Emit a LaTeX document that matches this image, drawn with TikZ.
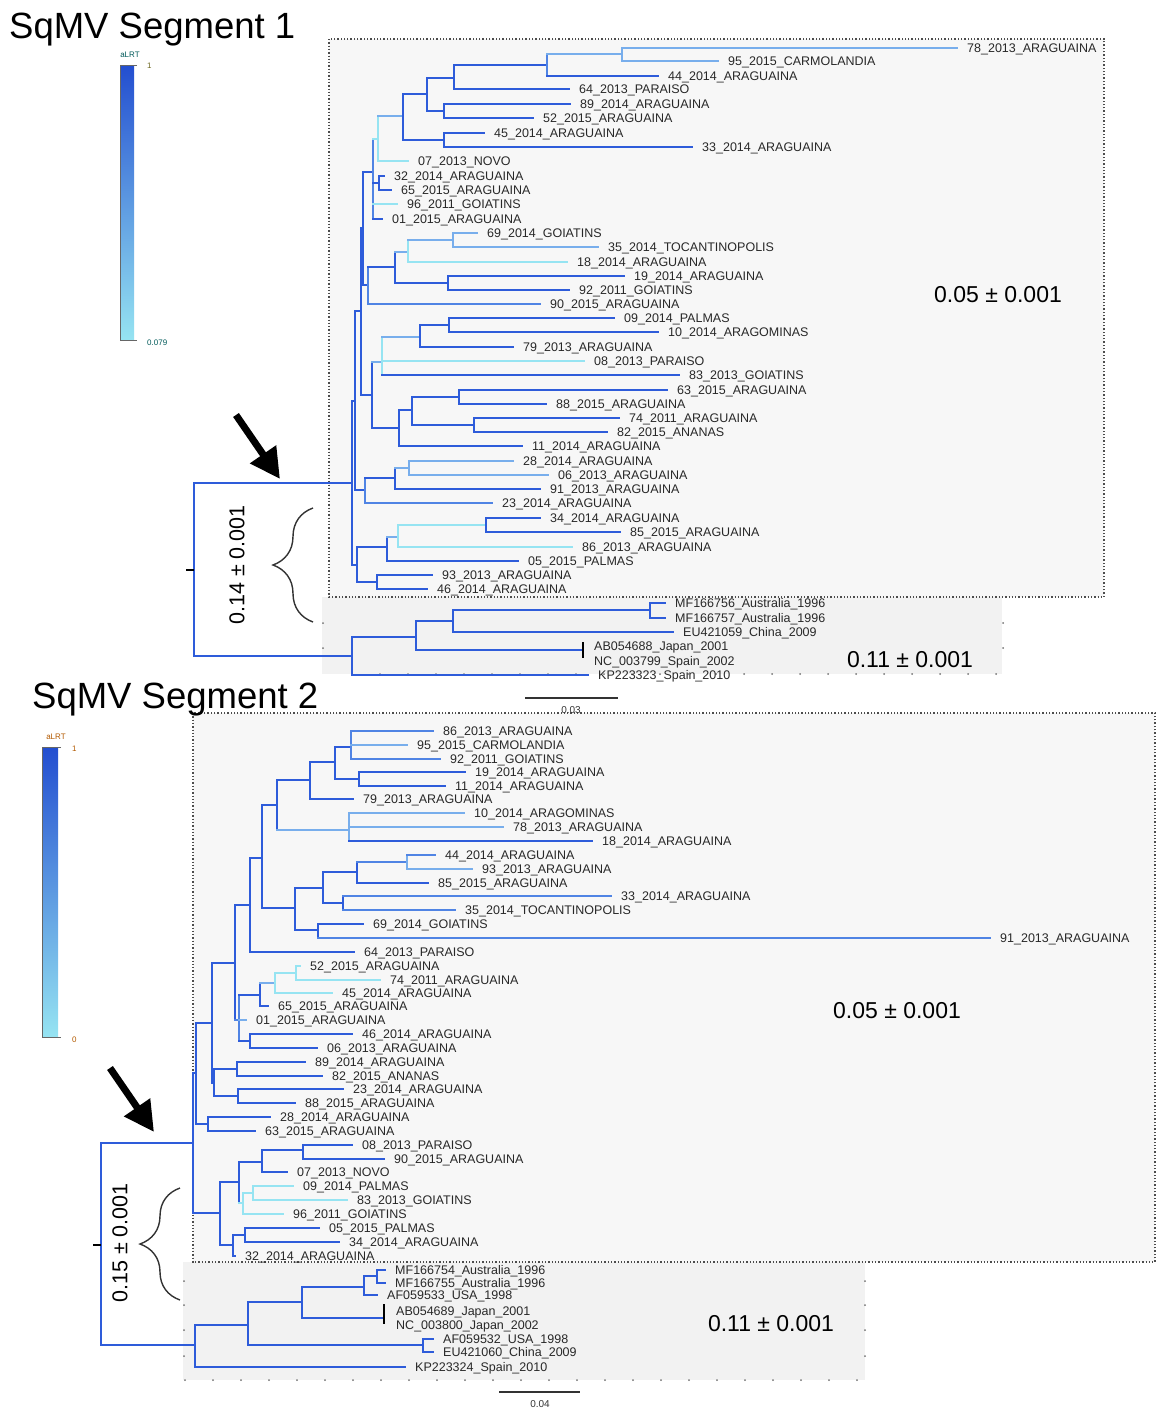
\documentclass[tikz,border=0pt]{standalone}
\usepackage{fontspec}
\setmainfont{Liberation Sans}
\usetikzlibrary{arrows.meta,decorations.pathreplacing}
\definecolor{b1}{RGB}{46,92,218}
\definecolor{b2}{RGB}{80,132,228}
\definecolor{b3}{RGB}{120,174,236}
\definecolor{b4}{RGB}{150,228,242}
\definecolor{cbtop}{RGB}{35,78,208}
\definecolor{labc}{RGB}{40,40,40}
\newcommand{\vbr}[4][b1]{\draw[br,#1] (#2,#3)--(#2,#4);}
\newcommand{\hbr}[4][b1]{\draw[br,#1] (#2,#4)--(#3,#4);}
\newcommand{\tipline}[5][b1]{\draw[br,#1] (#2,#4)--(#3,#4); \node[lab] (tip#4) at (#3+10,#4+4.6) {#5};}

\begin{document}
\begin{tikzpicture}[x=1pt,y=-1pt,
  br/.style={line width=2.9pt,line cap=rect},
  lab/.style={anchor=base west,inner sep=0pt,text=labc,font=\fontsize{12.5}{14}\selectfont},
  big/.style={font=\fontsize{23}{26}\selectfont},
  ttl/.style={anchor=base west,inner sep=0pt,font=\fontsize{36.5}{40}\selectfont},
  tiny/.style={inner sep=0pt,text=black!65,font=\fontsize{8}{9}\selectfont}]
\useasboundingbox (0,0) rectangle (1156,1408);

% panels
\fill[black!3] (329,39) rectangle (1104,597);
\fill[black!5] (322,597) rectangle (1002,674);
\draw[dotted,line width=1.3pt,black!70] (329,39) rectangle (1104,597);
\foreach \x in {352,380,...,1000} \fill[black!55] (\x,674) circle (1);
\foreach \y in {623,648} {\fill[black!55] (323,\y) circle (1); \fill[black!55] (1003,\y) circle (1);}
\fill[black!3] (193,713) rectangle (1155,1262);
\fill[black!5] (183,1262) rectangle (865,1380);
\draw[dotted,line width=1.3pt,black!70] (193,713) rectangle (1155,1262);
\foreach \x in {185,213,...,865} \fill[black!55] (\x,1380) circle (1);
\foreach \y in {1281,1305,1330,1356} {\fill[black!55] (184,\y) circle (1); \fill[black!55] (865,\y) circle (1);}

% titles and legends
\node[ttl] (title1) at (9,38) {SqMV Segment 1};
\node[ttl] (title2) at (32,708) {SqMV Segment 2};
\shade[top color=cbtop,bottom color=b4] (120,65) rectangle (134,340);
\draw[black!60,line width=0.8pt] (137,65)--(120,65)--(120,340)--(137,340);
\node[tiny,text=teal!70!black] (alrt1) at (130,55) {aLRT};
\node[tiny,anchor=west,text=olive!70!black] (one1) at (147,66) {1};
\node[tiny,anchor=west,text=teal!70!black] (low1) at (147,343) {0.079};
\shade[top color=cbtop,bottom color=b4] (42,747) rectangle (58,1037);
\draw[black!60,line width=0.8pt] (61,747)--(42,747)--(42,1037)--(61,1037);
\node[tiny,text=orange!70!black] (alrt2) at (56,737) {aLRT};
\node[tiny,anchor=west,text=orange!70!black] (one2) at (72,749) {1};
\node[tiny,anchor=west,text=orange!70!black] (low2) at (72,1040) {0};

% segment 1
\vbr{194}{483}{656}
\hbr{194}{352}{483}
\hbr{194}{352}{656}
\draw[line width=2pt] (186,570)--(194,570);
\vbr{352}{401}{565}
\hbr{352}{355}{401}
\hbr{352}{357}{565}
\vbr{355}{311}{490}
\hbr{355}{361}{311}
\hbr{355}{365}{490}
\vbr{361}{228}{395}
\hbr{361}{363}{228}
\hbr{361}{372}{395}
\vbr{363}{172}{285}
\hbr{363}{373}{172}
\hbr{363}{368}{285}
\vbr[b2]{373}{139}{219}
\hbr[b4]{373}{378}{139}
\hbr{373}{379}{183}
\tipline[b4]{373}{397}{204}{96\_2011\_GOIATINS}
\tipline{373}{382}{219}{01\_2015\_ARAGUAINA}
\vbr{379}{176}{190}
\tipline{379}{384}{176}{32\_2014\_ARAGUAINA}
\tipline{379}{391}{190}{65\_2015\_ARAGUAINA}
\vbr[b4]{378}{116}{161}
\hbr[b3]{378}{403}{116}
\tipline[b4]{378}{408}{161}{07\_2013\_NOVO}
\vbr{403}{94}{140}
\hbr{403}{427}{94}
\hbr{403}{444}{140}
\vbr{444}{133}{147}
\tipline{444}{484}{133}{45\_2014\_ARAGUAINA}
\tipline{444}{692}{147}{33\_2014\_ARAGUAINA}
\vbr{427}{78}{111}
\hbr{427}{454}{78}
\hbr{427}{444}{111}
\vbr{444}{104}{118}
\tipline{444}{570}{104}{89\_2014\_ARAGUAINA}
\tipline{444}{533}{118}{52\_2015\_ARAGUAINA}
\vbr{454}{65}{89}
\hbr{454}{547}{65}
\tipline{454}{569}{89}{64\_2013\_PARAISO}
\vbr[b2]{547}{54}{76}
\hbr[b3]{547}{622}{54}
\tipline{547}{658}{76}{44\_2014\_ARAGUAINA}
\vbr[b3]{622}{48}{61}
\tipline[b3]{622}{957}{48}{78\_2013\_ARAGUAINA}
\tipline[b3]{622}{718}{61}{95\_2015\_CARMOLANDIA}
\vbr[b2]{368}{267}{304}
\hbr{368}{395}{267}
\tipline[b2]{368}{540}{304}{90\_2015\_ARAGUAINA}
\vbr{395}{252}{283}
\hbr[b3]{395}{408}{252}
\hbr{395}{448}{283}
\vbr[b4]{408}{240}{262}
\hbr[b3]{408}{453}{240}
\tipline[b4]{408}{567}{262}{18\_2014\_ARAGUAINA}
\vbr[b3]{453}{233}{247}
\tipline[b3]{453}{477}{233}{69\_2014\_GOIATINS}
\tipline[b3]{453}{598}{247}{35\_2014\_TOCANTINOPOLIS}
\vbr{448}{276}{290}
\tipline{448}{624}{276}{19\_2014\_ARAGUAINA}
\tipline{448}{569}{290}{92\_2011\_GOIATINS}
\vbr{372}{362}{428}
\hbr[b3]{372}{382}{362}
\hbr{372}{399}{428}
\vbr[b4]{382}{337}{375}
\hbr[b3]{382}{420}{337}
\tipline[b4]{382}{584}{361}{08\_2013\_PARAISO}
\tipline{382}{679}{375}{83\_2013\_GOIATINS}
\vbr{420}{325}{347}
\hbr{420}{449}{325}
\tipline{420}{513}{347}{79\_2013\_ARAGUAINA}
\vbr{449}{318}{332}
\tipline{449}{614}{318}{09\_2014\_PALMAS}
\tipline{449}{658}{332}{10\_2014\_ARAGOMINAS}
\vbr{399}{410}{446}
\hbr{399}{412}{410}
\tipline{399}{522}{446}{11\_2014\_ARAGUAINA}
\vbr{412}{397}{425}
\hbr{412}{459}{397}
\hbr{412}{474}{425}
\vbr{459}{390}{404}
\tipline{459}{667}{390}{63\_2015\_ARAGUAINA}
\tipline{459}{546}{404}{88\_2015\_ARAGUAINA}
\vbr{474}{418}{432}
\tipline{474}{619}{418}{74\_2011\_ARAGUAINA}
\tipline{474}{607}{432}{82\_2015\_ANANAS}
\vbr[b2]{365}{478}{503}
\hbr{365}{395}{478}
\tipline[b2]{365}{492}{503}{23\_2014\_ARAGUAINA}
\vbr{395}{468}{489}
\hbr[b3]{395}{409}{468}
\tipline{395}{540}{489}{91\_2013\_ARAGUAINA}
\vbr[b3]{409}{461}{475}
\tipline[b3]{409}{513}{461}{28\_2014\_ARAGUAINA}
\tipline[b3]{409}{548}{475}{06\_2013\_ARAGUAINA}
\vbr{357}{547}{582}
\hbr{357}{387}{547}
\hbr{357}{377}{582}
\vbr{387}{537}{561}
\hbr[b3]{387}{398}{537}
\tipline{387}{518}{561}{05\_2015\_PALMAS}
\vbr[b4]{398}{525}{547}
\hbr[b4]{398}{486}{525}
\tipline[b4]{398}{572}{547}{86\_2013\_ARAGUAINA}
\vbr{486}{518}{532}
\tipline{486}{540}{518}{34\_2014\_ARAGUAINA}
\tipline{486}{620}{532}{85\_2015\_ARAGUAINA}
\vbr{377}{575}{589}
\tipline{377}{432}{575}{93\_2013\_ARAGUAINA}
\tipline{377}{427}{589}{46\_2014\_ARAGUAINA}
% outgroup 1
\vbr{352}{637}{675}
\hbr{352}{416}{637}
\tipline{352}{588}{675}{KP223323\_Spain\_2010}
\vbr{416}{621}{650}
\hbr{416}{453}{621}
\hbr{416}{583}{650}
\draw[line width=2pt] (583,642)--(583,658);
\node[lab] (tip646) at (594,650.6) {AB054688\_Japan\_2001};
\node[lab] (tip661) at (594,665.6) {NC\_003799\_Spain\_2002};
\vbr{453}{610}{632}
\hbr{453}{650}{610}
\tipline{453}{673}{632}{EU421059\_China\_2009}
\vbr{650}{603}{618}
\tipline{650}{665}{603}{MF166756\_Australia\_1996}
\tipline{650}{665}{618}{MF166757\_Australia\_1996}

% segment 2
\vbr{101}{1143}{1345}
\hbr{101}{193}{1143}
\hbr{101}{195}{1345}
\draw[line width=2pt] (93,1245)--(101,1245);
\vbr{193}{1073}{1213}
\hbr{193}{196}{1073}
\hbr{193}{220}{1213}
\vbr{196}{1023}{1124}
\hbr{196}{212}{1023}
\hbr{196}{208}{1124}
\vbr{208}{1117}{1131}
\tipline{208}{270}{1117}{28\_2014\_ARAGUAINA}
\tipline{208}{255}{1131}{63\_2015\_ARAGUAINA}
\vbr{212}{963}{1083}
\hbr{212}{235}{963}
\hbr{212}{214}{1083}
\vbr{214}{1069}{1096}
\hbr{214}{237}{1069}
\hbr{214}{238}{1096}
\vbr{237}{1062}{1076}
\tipline{237}{305}{1062}{89\_2014\_ARAGUAINA}
\tipline{237}{322}{1076}{82\_2015\_ANANAS}
\vbr{238}{1089}{1103}
\tipline{238}{343}{1089}{23\_2014\_ARAGUAINA}
\tipline{238}{295}{1103}{88\_2015\_ARAGUAINA}
\vbr{235}{905}{1020}
\hbr{235}{250}{905}
\hbr[b2]{235}{239}{1020}
\vbr{250}{858}{952}
\hbr{250}{262}{858}
\tipline{250}{354}{952}{64\_2013\_PARAISO}
\vbr{262}{805}{908}
\hbr{262}{277}{805}
\hbr{262}{295}{908}
\vbr{277}{780}{830}
\hbr{277}{310}{780}
\hbr[b3]{277}{349}{830}
\vbr{310}{762}{799}
\hbr{310}{335}{762}
\tipline{310}{353}{799}{79\_2013\_ARAGUAINA}
\vbr{335}{747}{779}
\hbr{335}{351}{747}
\hbr{335}{359}{779}
\vbr[b2]{351}{731}{759}
\tipline[b2]{351}{433}{731}{86\_2013\_ARAGUAINA}
\tipline[b3]{351}{407}{745}{95\_2015\_CARMOLANDIA}
\tipline[b2]{351}{440}{759}{92\_2011\_GOIATINS}
\vbr{359}{772}{786}
\tipline{359}{465}{772}{19\_2014\_ARAGUAINA}
\tipline{359}{445}{786}{11\_2014\_ARAGUAINA}
\vbr[b3]{349}{813}{841}
\tipline[b3]{349}{464}{813}{10\_2014\_ARAGOMINAS}
\tipline[b3]{349}{503}{827}{78\_2013\_ARAGUAINA}
\tipline{349}{592}{841}{18\_2014\_ARAGUAINA}
\vbr{295}{888}{930}
\hbr{295}{323}{888}
\hbr{295}{318}{930}
\vbr{323}{872}{903}
\hbr{323}{357}{872}
\hbr{323}{343}{903}
\vbr{357}{862}{883}
\hbr[b2]{357}{407}{862}
\tipline{357}{428}{883}{85\_2015\_ARAGUAINA}
\vbr[b3]{407}{855}{869}
\tipline[b2]{407}{435}{855}{44\_2014\_ARAGUAINA}
\tipline[b3]{407}{472}{869}{93\_2013\_ARAGUAINA}
\vbr{343}{896}{910}
\tipline[b2]{343}{611}{896}{33\_2014\_ARAGUAINA}
\tipline[b2]{343}{455}{910}{35\_2014\_TOCANTINOPOLIS}
\vbr{318}{924}{938}
\tipline{318}{363}{924}{69\_2014\_GOIATINS}
\tipline[b2]{318}{990}{938}{91\_2013\_ARAGUAINA}
\vbr[b2]{239}{995}{1041}
\hbr{239}{260}{995}
\tipline[b3]{239}{246}{1020}{01\_2015\_ARAGUAINA}
\hbr{239}{250}{1041}
\vbr{260}{983}{1006}
\hbr[b3]{260}{275}{983}
\tipline{260}{268}{1006}{65\_2015\_ARAGUAINA}
\vbr[b4]{275}{973}{993}
\hbr[b4]{275}{296}{973}
\tipline[b4]{275}{332}{993}{45\_2014\_ARAGUAINA}
\vbr[b4]{296}{966}{980}
\tipline[b4]{296}{300}{966}{52\_2015\_ARAGUAINA}
\tipline[b4]{296}{380}{980}{74\_2011\_ARAGUAINA}
\vbr{250}{1034}{1048}
\tipline{250}{352}{1034}{46\_2014\_ARAGUAINA}
\tipline{250}{317}{1048}{06\_2013\_ARAGUAINA}
\vbr{220}{1182}{1245}
\hbr{220}{239}{1182}
\hbr{220}{233}{1245}
\vbr{239}{1162}{1203}
\hbr{239}{262}{1162}
\hbr[b4]{239}{243}{1203}
\vbr{262}{1150}{1172}
\hbr{262}{303}{1150}
\tipline{262}{287}{1172}{07\_2013\_NOVO}
\vbr{303}{1145}{1159}
\tipline{303}{352}{1145}{08\_2013\_PARAISO}
\tipline{303}{384}{1159}{90\_2015\_ARAGUAINA}
\vbr[b4]{243}{1193}{1214}
\hbr[b4]{243}{253}{1193}
\tipline[b4]{243}{283}{1214}{96\_2011\_GOIATINS}
\vbr[b4]{253}{1186}{1200}
\tipline[b4]{253}{293}{1186}{09\_2014\_PALMAS}
\tipline[b4]{253}{347}{1200}{83\_2013\_GOIATINS}
\vbr{233}{1235}{1256}
\hbr{233}{245}{1235}
\tipline{233}{235}{1256}{32\_2014\_ARAGUAINA}
\vbr{245}{1228}{1242}
\tipline{245}{319}{1228}{05\_2015\_PALMAS}
\tipline{245}{339}{1242}{34\_2014\_ARAGUAINA}
% outgroup 2
\vbr{195}{1325}{1367}
\hbr{195}{248}{1325}
\tipline{195}{405}{1367}{KP223324\_Spain\_2010}
\vbr{248}{1302}{1345}
\hbr{248}{302}{1302}
\hbr{248}{423}{1345}
\vbr{302}{1287}{1318}
\hbr{302}{364}{1287}
\hbr{302}{384}{1318}
\draw[line width=2pt] (384,1304)--(384,1324);
\node[lab] (tip1311) at (396,1315.6) {AB054689\_Japan\_2001};
\node[lab] (tip1325) at (396,1329.6) {NC\_003800\_Japan\_2002};
\vbr{364}{1276}{1295}
\hbr{364}{377}{1276}
\tipline{364}{377}{1295}{AF059533\_USA\_1998}
\vbr{377}{1270}{1283}
\tipline{377}{385}{1270}{MF166754\_Australia\_1996}
\tipline{377}{385}{1283}{MF166755\_Australia\_1996}
\vbr{423}{1339}{1352}
\tipline{423}{433}{1339}{AF059532\_USA\_1998}
\tipline{423}{433}{1352}{EU421060\_China\_2009}

% distances, arrows, braces, scale bars
\node[big] (d1a) at (998,295) {0.05 ± 0.001};
\node[big] (d1b) at (910,660) {0.11 ± 0.001};
\node[big] (d2a) at (897,1011) {0.05 ± 0.001};
\node[big] (d2b) at (771,1324) {0.11 ± 0.001};
\node[rotate=90,font=\fontsize{21.5}{24}\selectfont] (d1c) at (237,565) {0.14 ± 0.001};
\node[rotate=90,font=\fontsize{21.5}{24}\selectfont] (d2c) at (120,1243) {0.15 ± 0.001};
\draw[decorate,decoration={brace,amplitude=40pt},line width=1.4pt,black!80] (313,622)--(313,508);
\draw[decorate,decoration={brace,amplitude=40pt},line width=1.4pt,black!80] (180,1300)--(180,1188);
\draw[-{Triangle[length=30pt,width=30pt]},line width=7pt] (236,415)--(280,479);
\draw[-{Triangle[length=30pt,width=30pt]},line width=7pt] (110,1068)--(154,1132);
\draw[line width=1.2pt,black!80] (525,698)--(618,698);
\node[tiny,text=black!80,font=\fontsize{10}{11}\selectfont] (sc1) at (571,710) {0.03};
\draw[line width=1.2pt,black!80] (499,1392)--(580,1392);
\node[tiny,text=black!80,font=\fontsize{10}{11}\selectfont] (sc2) at (540,1404) {0.04};
\end{tikzpicture}
\end{document}
